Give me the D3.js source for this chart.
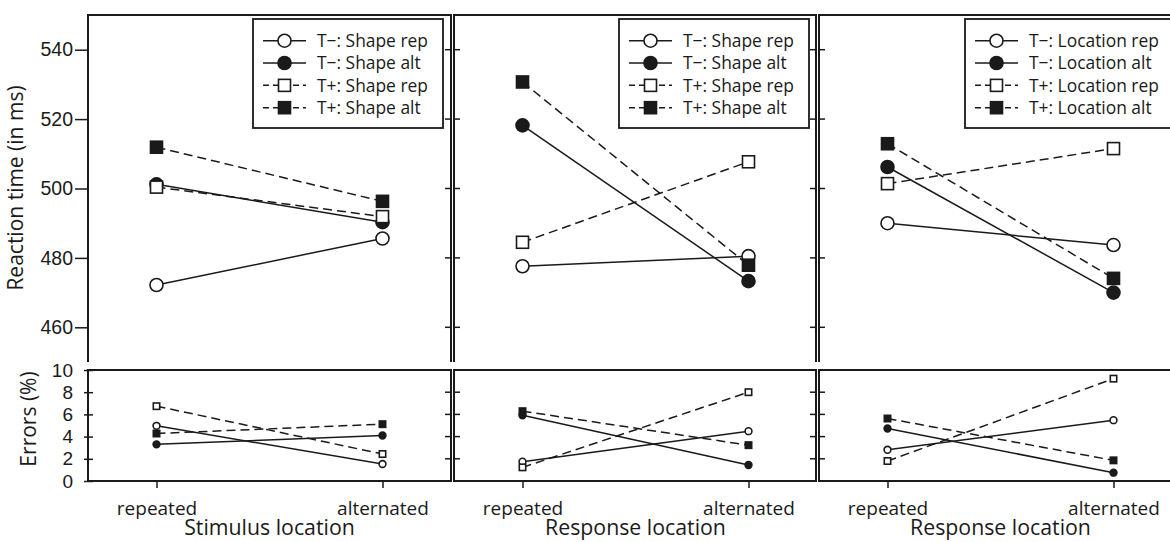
<!DOCTYPE html>
<html>
<head>
<meta charset="utf-8">
<script src="https://cdn.jsdelivr.net/npm/d3@7"></script>
<style>
  html, body { margin: 0; padding: 0; background: #fff; }
  svg { display: block; }
  text { font-family: "Open Sans", "DejaVu Sans", sans-serif; fill: #1a1a1a; }
  .num text, text.num { font-family: "Liberation Sans", "Open Sans", sans-serif; }
</style>
</head>
<body>
<svg id="chart" width="1170" height="542"></svg>
<script>
// ---------------- DATA ----------------
const categories = ["repeated", "alternated"];
const xTitles = ["Stimulus location", "Response location", "Response location"];
const legendP1 = ["T\u2212: Shape rep", "T\u2212: Shape alt", "T+: Shape rep", "T+: Shape alt"];
const legendP2 = ["T\u2212: Shape rep", "T\u2212: Shape alt", "T+: Shape rep", "T+: Shape alt"];
const legendP3 = ["T\u2212: Location rep", "T\u2212: Location alt", "T+: Location rep", "T+: Location alt"];
const rtTicks = [460, 480, 500, 520, 540];
const errTicks = [0, 2, 4, 6, 8, 10];

// reaction times (ms): series order T- rep, T- alt, T+ rep, T+ alt ; values [repeated, alternated]
const rtP1 = [[472.2, 485.6], [501.2, 490.3], [500.4, 491.9], [511.9, 496.3]];
const rtP2 = [[477.6, 480.5], [518.2, 473.3], [484.5, 507.7], [530.7, 477.9]];
const rtP3 = [[490.0, 483.7], [506.2, 470.0], [501.4, 511.5], [512.9, 474.1]];
// errors (%)
const errP1 = [[4.97, 1.53], [3.30, 4.10], [6.74, 2.43], [4.28, 5.12]];
const errP2 = [[1.74, 4.49], [5.93, 1.44], [1.23, 8.00], [6.29, 3.23]];
const errP3 = [[2.81, 5.48], [4.73, 0.75], [1.80, 9.22], [5.63, 1.86]];

// ---------------- STYLE / LAYOUT ----------------
const ink = "#1a1a1a";
const seriesStyle = [
  { shape: "circle", fill: "#fff", dash: null },
  { shape: "circle", fill: ink, dash: null },
  { shape: "square", fill: "#fff", dash: "9,5" },
  { shape: "square", fill: ink, dash: "9,5" }
];
const panelX = [[88, 451], [454, 816], [819, 1172]];
const topY = [15, 362];
const botY = [370, 481];
const legendBox = [[253, 443], [619, 809], [965, 1172]];

const rtSets = [rtP1, rtP2, rtP3];
const errSets = [errP1, errP2, errP3];
const legends = [legendP1, legendP2, legendP3];

const svg = d3.select("#chart");
const yTop = d3.scaleLinear().domain([450, 550]).range([topY[1], topY[0]]);
const yBot = d3.scaleLinear().domain([0, 10]).range([botY[1], botY[0]]);

function marker(g, shape, fill, cx, cy, size) {
  if (shape === "circle") {
    g.append("circle").attr("cx", cx).attr("cy", cy).attr("r", size)
      .attr("fill", fill).attr("stroke", ink).attr("stroke-width", 1.6);
  } else {
    g.append("rect").attr("x", cx - size).attr("y", cy - size)
      .attr("width", size * 2).attr("height", size * 2)
      .attr("fill", fill).attr("stroke", ink).attr("stroke-width", 1.6);
  }
}

panelX.forEach(([x0, x1], p) => {
  const x = d3.scalePoint().domain(categories).range([x0 + 68.5, x0 + 294.5]);
  const g = svg.append("g");

  // ---- top panel frame (no bottom edge) ----
  g.append("path")
    .attr("d", `M${x0},${topY[1]} V${topY[0]} H${x1} V${topY[1]}`)
    .attr("fill", "none").attr("stroke", ink).attr("stroke-width", 2);
  // ---- bottom panel frame ----
  g.append("rect").attr("x", x0).attr("y", botY[0]).attr("width", x1 - x0).attr("height", botY[1] - botY[0])
    .attr("fill", "none").attr("stroke", ink).attr("stroke-width", 2);

  // ---- y ticks ----
  if (p === 0) {
    const axT = d3.axisLeft(yTop).tickValues(rtTicks).tickSize(13).tickPadding(2);
    const gt = g.append("g").attr("class", "num").attr("transform", `translate(${x0},0)`).call(axT);
    gt.select(".domain").remove();
    gt.selectAll("line").attr("stroke", ink).attr("stroke-width", 1.5);
    gt.selectAll("text").style("font-size", "19.5px").attr("fill", ink);

    const axB = d3.axisLeft(yBot).tickValues(errTicks).tickSize(5).tickPadding(10);
    const gb = g.append("g").attr("class", "num").attr("transform", `translate(${x0},0)`).call(axB);
    gb.select(".domain").remove();
    gb.selectAll("line").attr("stroke", ink).attr("stroke-width", 1.5).attr("x2", -4).attr("x1", 5);
    gb.selectAll("text").style("font-size", "19px").attr("fill", ink);
  } else {
    // inward ticks on left edge
    g.append("g").selectAll("line").data(rtTicks).join("line")
      .attr("x1", x0).attr("x2", x0 + 6).attr("y1", d => yTop(d)).attr("y2", d => yTop(d))
      .attr("stroke", ink).attr("stroke-width", 1.5);
    g.append("g").selectAll("line").data(errTicks.slice(1, -1)).join("line")
      .attr("x1", x0).attr("x2", x0 + 6).attr("y1", d => yBot(d)).attr("y2", d => yBot(d))
      .attr("stroke", ink).attr("stroke-width", 1.5);
  }
  if (p < 2) {
    // inward ticks on right edge
    g.append("g").selectAll("line").data(rtTicks).join("line")
      .attr("x1", x1 - 6).attr("x2", x1).attr("y1", d => yTop(d)).attr("y2", d => yTop(d))
      .attr("stroke", ink).attr("stroke-width", 1.5);
    g.append("g").selectAll("line").data(errTicks.slice(1, -1)).join("line")
      .attr("x1", x1 - 6).attr("x2", x1).attr("y1", d => yBot(d)).attr("y2", d => yBot(d))
      .attr("stroke", ink).attr("stroke-width", 1.5);
  }

  // ---- x axis (bottom) ----
  const axX = d3.axisBottom(x).tickSize(7).tickPadding(14);
  const gx = g.append("g").attr("transform", `translate(0,${botY[1]})`).call(axX);
  gx.select(".domain").remove();
  gx.selectAll("line").attr("stroke", ink).attr("stroke-width", 1.5);
  gx.selectAll("text").style("font-size", "19px").attr("fill", ink);

  g.append("text").attr("x", (x(categories[0]) + x(categories[1])) / 2).attr("y", 535)
    .attr("text-anchor", "middle").style("font-size", "21.3px").text(xTitles[p]);

  // ---- data: top ----
  const lineTop = d3.line().x((d, i) => x(categories[i])).y(d => yTop(d));
  const lineBot = d3.line().x((d, i) => x(categories[i])).y(d => yBot(d));
  rtSets[p].forEach((vals, s) => {
    const st = seriesStyle[s];
    g.append("path").attr("d", lineTop(vals)).attr("fill", "none").attr("stroke", ink)
      .attr("stroke-width", 1.5).attr("stroke-dasharray", st.dash);
  });
  rtSets[p].forEach((vals, s) => {
    const st = seriesStyle[s];
    vals.forEach((v, i) => marker(g, st.shape, st.fill, x(categories[i]), yTop(v), st.shape === "circle" ? 6.5 : 6));
  });
  // ---- data: bottom ----
  errSets[p].forEach((vals, s) => {
    const st = seriesStyle[s];
    g.append("path").attr("d", lineBot(vals)).attr("fill", "none").attr("stroke", ink)
      .attr("stroke-width", 1.5).attr("stroke-dasharray", st.dash);
  });
  errSets[p].forEach((vals, s) => {
    const st = seriesStyle[s];
    vals.forEach((v, i) => marker(g, st.shape, st.fill, x(categories[i]), yBot(v), st.shape === "circle" ? 3.4 : 3.2));
  });

  // ---- legend ----
  const [lx0, lx1] = legendBox[p];
  const lg = g.append("g");
  lg.append("rect").attr("x", lx0).attr("y", 19).attr("width", lx1 - lx0).attr("height", 109)
    .attr("fill", "#fff").attr("stroke", ink).attr("stroke-width", 1.8);
  const rowY = d3.scalePoint().domain(d3.range(4)).range([40.7, 107.7]);
  const symX0 = lx0 + 10, symX1 = lx0 + 53, textX = lx0 + 64;
  legends[p].forEach((lab, s) => {
    const st = seriesStyle[s];
    const yy = rowY(s);
    lg.append("line").attr("x1", symX0).attr("x2", symX1).attr("y1", yy).attr("y2", yy)
      .attr("stroke", ink).attr("stroke-width", 1.5).attr("stroke-dasharray", st.dash ? "6,4" : null);
    marker(lg, st.shape, st.fill, (symX0 + symX1) / 2, yy, st.shape === "circle" ? 6.5 : 6);
    lg.append("text").attr("x", textX).attr("y", yy).attr("dy", "0.36em")
      .style("font-size", "17.4px").text(lab);
  });
});

// ---- y axis titles ----
svg.append("text").attr("transform", "translate(23,188) rotate(-90)")
  .attr("text-anchor", "middle").style("font-size", "21px").text("Reaction time (in ms)");
svg.append("text").attr("transform", "translate(36,419) rotate(-90)")
  .attr("text-anchor", "middle").style("font-size", "21px").text("Errors (%)");
</script>
</body>
</html>
